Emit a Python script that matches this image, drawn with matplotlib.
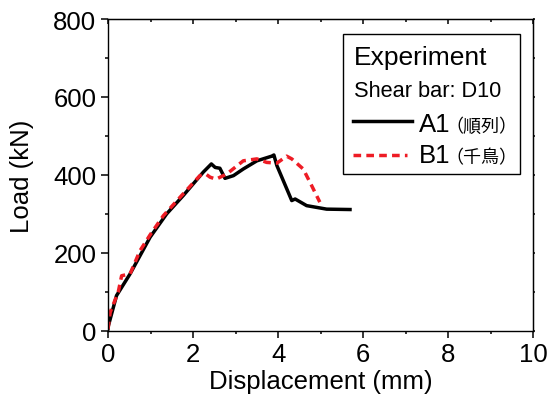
import matplotlib

matplotlib.use("Agg")

import matplotlib.pyplot as plt
from matplotlib.patches import Rectangle
from matplotlib.ticker import AutoMinorLocator

plt.rcParams["font.family"] = ["Liberation Sans", "Noto Sans CJK JP"]

# A1 (順列) load-displacement curve
A1_DISP = [0.0, 0.01, 0.2, 0.52, 0.99, 1.38, 1.77, 2.24, 2.43, 2.52, 2.63, 2.75,
           2.95, 3.18, 3.50, 3.85, 3.90, 3.97, 4.32, 4.40, 4.67, 5.14, 5.69]
A1_LOAD = [5, 13, 90, 146, 240, 300, 347, 407, 428, 419, 417, 391,
           398, 415, 436, 448, 451, 424, 334, 338, 321, 312, 311]

# B1 (千鳥) load-displacement curve
B1_DISP = [0.0, 0.05, 0.24, 0.32, 0.52, 0.75, 0.99, 1.30, 1.69, 2.16, 2.30, 2.40,
           2.54, 2.79, 3.18, 3.50, 3.73, 3.97, 4.20, 4.32, 4.59, 4.79, 4.98]
B1_LOAD = [4, 47, 99, 141, 146, 205, 246, 295, 342, 398, 402, 394,
           389, 402, 436, 441, 432, 430, 448, 441, 415, 372, 330]

X_TICKS = [0, 2, 4, 6, 8, 10]
Y_TICKS = [0, 200, 400, 600, 800]

RED = "#ee1c25"
FS = 18.5

fig = plt.figure(figsize=(5.48, 4.02), dpi=100)
ax = fig.add_axes([0.1971, 0.1749, 0.7761, 0.7753])

ax.plot(A1_DISP, A1_LOAD, color="black", linewidth=2.5, solid_joinstyle="round")
ax.plot(B1_DISP, B1_LOAD, color=RED, linewidth=2.5, dashes=(2.2, 1.5))

ax.set_xlim(0, 10)
ax.set_ylim(0, 800)
ax.set_xticks(X_TICKS)
ax.set_yticks(Y_TICKS)
ax.xaxis.set_minor_locator(AutoMinorLocator(2))
ax.yaxis.set_minor_locator(AutoMinorLocator(2))
ax.tick_params(which="major", direction="out", length=4.8, width=1.1, labelsize=FS)
ax.tick_params(which="minor", direction="out", length=2.4, width=1.1)
for spine in ax.spines.values():
    spine.set_linewidth(1.0)

ax.set_xlabel("Displacement (mm)", fontsize=FS, labelpad=2)
ax.set_ylabel("Load (kN)", fontsize=FS, labelpad=14)

# mirrored ticks on top (inward) and right
top = ax.secondary_xaxis("top")
top.set_xticks(X_TICKS)
top.xaxis.set_minor_locator(AutoMinorLocator(2))
top.set_xticklabels([])
top.tick_params(which="major", direction="in", length=3.5, width=1.1)
top.tick_params(which="minor", direction="in", length=2.5, width=1.1)
right = ax.secondary_yaxis("right")
right.set_yticks(Y_TICKS)
right.yaxis.set_minor_locator(AutoMinorLocator(2))
right.set_yticklabels([])
right.tick_params(which="both", direction="out", length=1.5, width=1.1)

# hand-built legend box
ax.add_patch(Rectangle((0.553, 0.503), 0.416, 0.449, transform=ax.transAxes,
                       facecolor="white", edgecolor="black", linewidth=1.0, zorder=4))
ax.text(0.578, 0.855, "Experiment", transform=ax.transAxes, fontsize=19,
        va="baseline", zorder=5)
ax.text(0.578, 0.754, "Shear bar: D10", transform=ax.transAxes, fontsize=15.7,
        va="baseline", zorder=5)
ax.plot([0.577, 0.714], [0.674, 0.674], transform=ax.transAxes, color="black",
        linewidth=2.5, zorder=5)
ax.plot([0.577, 0.704], [0.564, 0.564], transform=ax.transAxes, color=RED,
        linewidth=2.5, dashes=(2.2, 1.5), zorder=5)
for name, note, y in [("A1", "（順列）", 0.642), ("B1", "（千鳥）", 0.540)]:
    t = ax.text(0.730, y, name, transform=ax.transAxes, fontsize=FS,
                va="baseline", zorder=5)
    ax.annotate(note, xy=(1, 0.42), xycoords=t, xytext=(-3, 0),
                textcoords="offset points", fontsize=13, va="center", zorder=5,
                family=["Noto Sans CJK JP"])

fig.savefig("out.png", dpi=100)
